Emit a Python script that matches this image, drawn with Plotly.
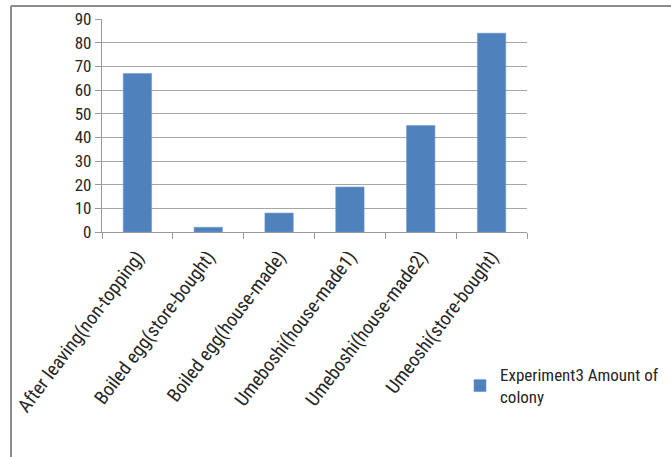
import plotly.graph_objects as go

categories = [
    "After leaving(non-topping)",
    "Boiled egg(store-bought)",
    "Boiled egg(house-made)",
    "Umeboshi(house-made1)",
    "Umeboshi(house-made2)",
    "Umeoshi(store-bought)",
]
colony_amount = [67, 2, 8, 19, 45, 84]
series_name = "Experiment3 Amount of<br>colony"
y_ticks = [0, 10, 20, 30, 40, 50, 60, 70, 80, 90]

FONT = "Roboto Condensed, Liberation Sans, sans-serif"
TEXT = "#262626"
W, H = 671, 457
L, R, T, B = 102, 144, 19, 225
pw, ph = W - L - R, H - T - B


def px_x(x):
    return (x - L) / pw


def px_y(y):
    return (H - B - y) / ph


fig = go.Figure()
fig.add_trace(go.Bar(
    x=categories,
    y=colony_amount,
    name=series_name,
    marker=dict(color="#4f81bd", line=dict(color="#6f98cc", width=0.6)),
    showlegend=True,
))

# outer chart frame (top and left edges)
frame = dict(type="line", xref="paper", yref="paper",
             line=dict(color="#8c8c8c", width=2))
fig.add_shape(**frame, x0=px_x(11), x1=px_x(W + 5), y0=px_y(6), y1=px_y(6))
fig.add_shape(**frame, x0=px_x(11), x1=px_x(11), y0=px_y(6), y1=px_y(H + 5))

fig.update_layout(
    width=W, height=H,
    margin=dict(l=L, r=R, t=T, b=B, autoexpand=False),
    paper_bgcolor="white", plot_bgcolor="white",
    font=dict(family=FONT, color=TEXT),
    bargap=0.6,
    showlegend=True,
    legend=dict(
        xref="container", yref="container",
        x=460 / W, y=(H - 386) / H, xanchor="left", yanchor="middle",
        font=dict(size=17, family=FONT, color=TEXT),
        bgcolor="rgba(0,0,0,0)", itemwidth=30,
    ),
)
fig.update_xaxes(
    tickangle=-53,
    tickfont=dict(size=19, family=FONT, color=TEXT),
    ticklabelstandoff=5,
    showline=True, linecolor="#9a9a9a", linewidth=1.2,
    ticks="outside", tickson="boundaries", ticklen=6, tickcolor="#9a9a9a",
    showgrid=False,
)
fig.update_yaxes(
    range=[0, 90], tickvals=y_ticks,
    tickfont=dict(size=17, family=FONT, color=TEXT),
    showline=True, linecolor="#9a9a9a", linewidth=1.2,
    ticks="outside", ticklen=6, tickcolor="#9a9a9a",
    showgrid=True, gridcolor="#a6a6a6", gridwidth=1.2,
    zeroline=False,
)

fig.write_html("out.html")
